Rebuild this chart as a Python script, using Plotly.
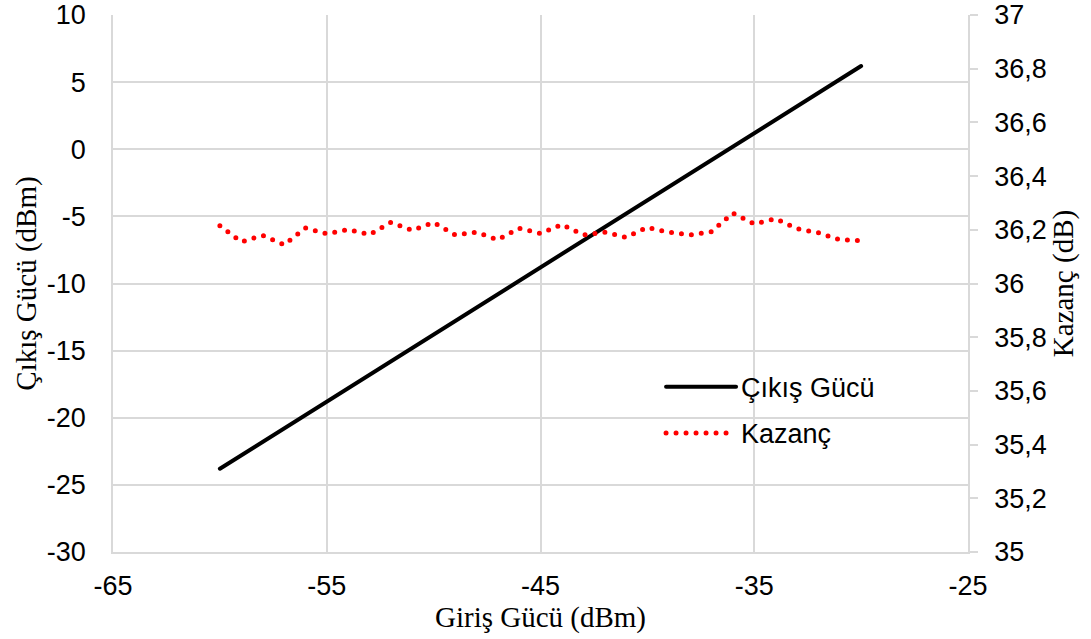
import plotly.graph_objects as go

giris = [-60, -59, -58, -57, -56, -55, -54, -53, -52, -51, -50, -49, -48, -47, -46, -45,
         -44, -43, -42, -41, -40, -39, -38, -37, -36, -35, -34, -33, -32, -31, -30]
cikis = [-23.8, -22.8, -21.8, -20.8, -19.8, -18.8, -17.8, -16.8, -15.8, -14.8, -13.8,
         -12.8, -11.8, -10.8, -9.8, -8.8, -7.8, -6.8, -5.8, -4.8, -3.8, -2.8, -1.8, -0.8,
         0.2, 1.2, 2.2, 3.2, 4.2, 5.2, 6.2]
kazanc = [36.215, 36.155, 36.179, 36.144, 36.207, 36.185, 36.201, 36.182, 36.228, 36.198,
          36.227, 36.181, 36.191, 36.163, 36.206, 36.186, 36.220, 36.181, 36.191, 36.172,
          36.209, 36.191, 36.181, 36.193, 36.262, 36.222, 36.241, 36.204, 36.189, 36.163,
          36.160]

x_ticks = [-65, -55, -45, -35, -25]
x_ticktext = ["-65", "-55", "-45", "-35", "-25"]
y1_ticks = [10, 5, 0, -5, -10, -15, -20, -25, -30]
y1_ticktext = ["10", "5", "0", "-5", "-10", "-15", "-20", "-25", "-30"]
y2_ticks = [37, 36.8, 36.6, 36.4, 36.2, 36, 35.8, 35.6, 35.4, 35.2, 35]
y2_ticktext = ["37", "36,8", "36,6", "36,4", "36,2", "36", "35,8", "35,6", "35,4", "35,2", "35"]

grid = "#d9d9d9"
tickfont = dict(family="Liberation Sans, Arial", size=27, color="#000000")
titlefont = dict(family="Liberation Serif, Times New Roman", size=29, color="#000000")

fig = go.Figure()
fig.add_trace(go.Scatter(x=giris, y=cikis, mode="lines", name="Çıkış Gücü",
                         legendgroup="a",
                         line=dict(color="#000000", width=4)))
fig.add_trace(go.Scatter(x=giris, y=kazanc, mode="lines", name="Kazanç", yaxis="y2",
                         legendgroup="b",
                         line=dict(color="#ff0000", width=5, dash="0px,10px")))

fig.update_layout(
    width=1091, height=639,
    margin=dict(l=113, r=123, t=15, b=87),
    paper_bgcolor="white", plot_bgcolor="white",
    showlegend=True,
    legend=dict(x=0.641, y=0.264, xanchor="left", yanchor="middle",
                font=dict(family="Liberation Sans, Arial", size=27, color="#000000"),
                bgcolor="rgba(0,0,0,0)", tracegroupgap=8, itemwidth=70),
    xaxis=dict(range=[-65, -25], tickvals=x_ticks, ticktext=x_ticktext,
               showgrid=True, gridcolor=grid, gridwidth=1.5,
               showline=True, linecolor=grid, linewidth=1.5, automargin=False,
               zeroline=False, ticks="outside", ticklen=9, tickcolor="rgba(0,0,0,0)",
               tickfont=tickfont,
               title=dict(text="Giriş Gücü (dBm)", font=titlefont, standoff=4)),
    yaxis=dict(range=[-30, 10], tickvals=y1_ticks, ticktext=y1_ticktext,
               showgrid=True, gridcolor=grid, gridwidth=1.5,
               showline=True, linecolor=grid, linewidth=1.5, automargin=False,
               zeroline=False, ticks="outside", ticklen=20, tickcolor="rgba(0,0,0,0)",
               tickfont=tickfont,
               title=dict(text="Çıkış Gücü (dBm)", font=titlefont, standoff=2)),
    yaxis2=dict(range=[35, 37], tickvals=y2_ticks, ticktext=y2_ticktext,
                overlaying="y", side="right", showgrid=False, automargin=False,
                showline=True, linecolor=grid, linewidth=1.5, zeroline=False,
                ticks="outside", ticklen=8, tickcolor=grid, tickwidth=1.5,
                ticklabelstandoff=11,
                tickfont=tickfont,
                title=dict(text="Kazanç (dB)", font=titlefont, standoff=0)),
)

post = ("var s=document.createElement('style');"
        "s.innerHTML='.js-line{stroke-linecap:round} body{margin:0}';"
        "document.head.appendChild(s);")
fig.write_html("out.html", post_script=post, config={"displayModeBar": False})
